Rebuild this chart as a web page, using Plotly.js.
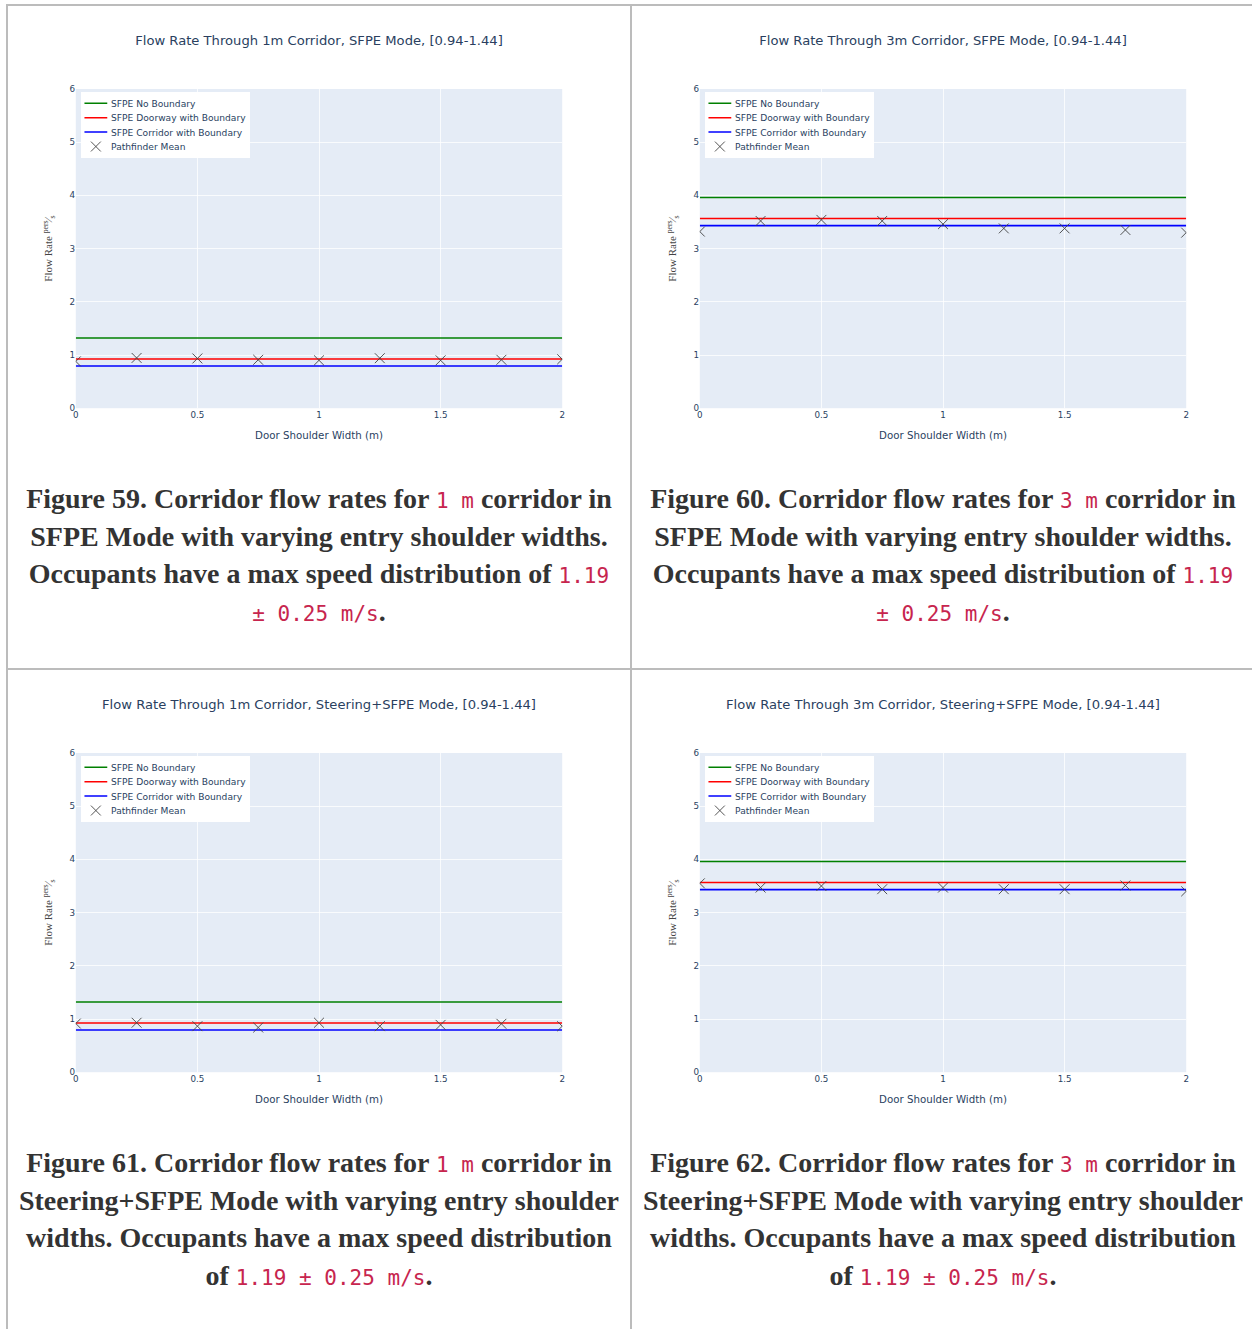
<!DOCTYPE html>
<html>
<head>
<meta charset="utf-8">
<script src="https://cdn.plot.ly/plotly-3.0.1.min.js"></script>
<style>
  html, body { margin:0; padding:0; background:#fff; }
  body { width:1252px; height:1329px; position:relative; overflow:hidden; }
  .bd { position:absolute; background:#bcbcbc; }
  .plot { position:absolute; width:800px; height:600px; transform:scale(0.76); transform-origin:0 0; }
  .cap { position:absolute; width:622px; text-align:center; font-family:"Liberation Serif", serif; font-weight:bold;
         font-size:28px; line-height:37.5px; color:#333; }
  .cap code { font-family:"DejaVu Sans Mono", "Liberation Mono", monospace; font-weight:normal; color:#c7254e; font-size:21px; line-height:1; }
</style>
</head>
<body>
<div class="bd" style="left:6px;top:4px;width:1246px;height:2px"></div>
<div class="bd" style="left:6px;top:4px;width:2px;height:1325px"></div>
<div class="bd" style="left:630px;top:4px;width:2px;height:1325px"></div>
<div class="bd" style="left:6px;top:668px;width:1246px;height:2px"></div>

<div id="p59" class="plot" style="left:15px;top:13px"></div>
<div id="p60" class="plot" style="left:639px;top:13px"></div>
<div id="p61" class="plot" style="left:15px;top:677px"></div>
<div id="p62" class="plot" style="left:639px;top:677px"></div>

<div class="cap" style="left:8px;top:480px">Figure 59. Corridor flow rates for <code>1 m</code> corridor in<br>SFPE Mode with varying entry shoulder widths.<br>Occupants have a max speed distribution of <code>1.19</code><br><code>± 0.25 m/s</code>.</div>
<div class="cap" style="left:632px;top:480px">Figure 60. Corridor flow rates for <code>3 m</code> corridor in<br>SFPE Mode with varying entry shoulder widths.<br>Occupants have a max speed distribution of <code>1.19</code><br><code>± 0.25 m/s</code>.</div>
<div class="cap" style="left:8px;top:1144px">Figure 61. Corridor flow rates for <code>1 m</code> corridor in<br>Steering+SFPE Mode with varying entry shoulder<br>widths. Occupants have a max speed distribution<br>of <code>1.19 ± 0.25 m/s</code>.</div>
<div class="cap" style="left:632px;top:1144px">Figure 62. Corridor flow rates for <code>3 m</code> corridor in<br>Steering+SFPE Mode with varying entry shoulder<br>widths. Occupants have a max speed distribution<br>of <code>1.19 ± 0.25 m/s</code>.</div>

<script>
// ---- data ----
const shoulderWidths = [0, 0.25, 0.5, 0.75, 1.0, 1.25, 1.5, 1.75, 2.0];

const seriesNames = ["SFPE No Boundary", "SFPE Doorway with Boundary", "SFPE Corridor with Boundary", "Pathfinder Mean"];

// 1 m corridor, SFPE Mode
const sfpeNoBoundary1m   = [1.32, 1.32, 1.32, 1.32, 1.32, 1.32, 1.32, 1.32, 1.32];
const sfpeDoorway1m      = [0.924, 0.924, 0.924, 0.924, 0.924, 0.924, 0.924, 0.924, 0.924];
const sfpeCorridor1m     = [0.792, 0.792, 0.792, 0.792, 0.792, 0.792, 0.792, 0.792, 0.792];
const pathfinderSfpe1m   = [0.88, 0.945, 0.935, 0.91, 0.90, 0.94, 0.90, 0.91, 0.92];

// 3 m corridor, SFPE Mode
const sfpeNoBoundary3m   = [3.96, 3.96, 3.96, 3.96, 3.96, 3.96, 3.96, 3.96, 3.96];
const sfpeDoorway3m      = [3.564, 3.564, 3.564, 3.564, 3.564, 3.564, 3.564, 3.564, 3.564];
const sfpeCorridor3m     = [3.432, 3.432, 3.432, 3.432, 3.432, 3.432, 3.432, 3.432, 3.432];
const pathfinderSfpe3m   = [3.32, 3.52, 3.54, 3.52, 3.46, 3.38, 3.38, 3.35, 3.30];

// Steering+SFPE Mode
const pathfinderSteer1m  = [0.915, 0.93, 0.865, 0.84, 0.93, 0.865, 0.89, 0.91, 0.865];
const pathfinderSteer3m  = [3.55, 3.47, 3.50, 3.44, 3.47, 3.44, 3.44, 3.51, 3.40];

const plotTitles = [
  "Flow Rate Through 1m Corridor, SFPE Mode, [0.94-1.44]",
  "Flow Rate Through 3m Corridor, SFPE Mode, [0.94-1.44]",
  "Flow Rate Through 1m Corridor, Steering+SFPE Mode, [0.94-1.44]",
  "Flow Rate Through 3m Corridor, Steering+SFPE Mode, [0.94-1.44]"
];
const xTitle = "Door Shoulder Width (m)";
const yTitle = "Flow Rate <sup>pers</sup>⁄<sub>s</sub>";
const xTicks = [0, 0.5, 1, 1.5, 2];
const xTickText = ["0", "0.5", "1", "1.5", "2"];
const yTicks = [0, 1, 2, 3, 4, 5, 6];

// ---- drawing ----
function draw(id, title, noB, door, corr, pf) {
  const traces = [
    {x: shoulderWidths, y: noB, name: seriesNames[0], mode: "lines", line: {color: "green", width: 2}},
    {x: shoulderWidths, y: door, name: seriesNames[1], mode: "lines", line: {color: "red", width: 2}},
    {x: shoulderWidths, y: corr, name: seriesNames[2], mode: "lines", line: {color: "blue", width: 2}},
    {x: shoulderWidths, y: pf, name: seriesNames[3], mode: "markers",
     marker: {symbol: "x-thin-open", size: 13, color: "#444", line: {width: 1.2, color: "#444"}}}
  ];
  const layout = {
    width: 800, height: 600,
    margin: {l: 80, r: 80, t: 100, b: 80},
    paper_bgcolor: "#fff",
    plot_bgcolor: "#E5ECF6",
    font: {family: "DejaVu Sans, Verdana, sans-serif", color: "#2a3f5f", size: 11.5},
    title: {text: title, font: {size: 17.3, color: "#2a3f5f"}, x: 0.5, xanchor: "center", y: 0.941, yanchor: "middle", yref: "container"},
    xaxis: {
      range: [0, 2], tickvals: xTicks, ticktext: xTickText, gridcolor: "#fff", zeroline: false,
      ticks: "", showline: false,
      title: {text: xTitle, font: {size: 13.5, color: "#2a3f5f"}, standoff: 16}
    },
    yaxis: {
      range: [0, 6], tickvals: yTicks, gridcolor: "#fff", zeroline: false,
      ticks: "", showline: false,
      title: {text: yTitle, font: {family: "Liberation Serif, serif", size: 14.5, color: "#444"}, standoff: 18}
    },
    legend: {x: 0.01, y: 0.99, xanchor: "left", yanchor: "top", bgcolor: "#fff",
             font: {size: 12, color: "#2a3f5f"}},
    showlegend: true
  };
  Plotly.newPlot(id, traces, layout, {displayModeBar: false, staticPlot: true});
}

draw("p59", plotTitles[0], sfpeNoBoundary1m, sfpeDoorway1m, sfpeCorridor1m, pathfinderSfpe1m);
draw("p60", plotTitles[1], sfpeNoBoundary3m, sfpeDoorway3m, sfpeCorridor3m, pathfinderSfpe3m);
draw("p61", plotTitles[2], sfpeNoBoundary1m, sfpeDoorway1m, sfpeCorridor1m, pathfinderSteer1m);
draw("p62", plotTitles[3], sfpeNoBoundary3m, sfpeDoorway3m, sfpeCorridor3m, pathfinderSteer3m);
</script>
</body>
</html>
